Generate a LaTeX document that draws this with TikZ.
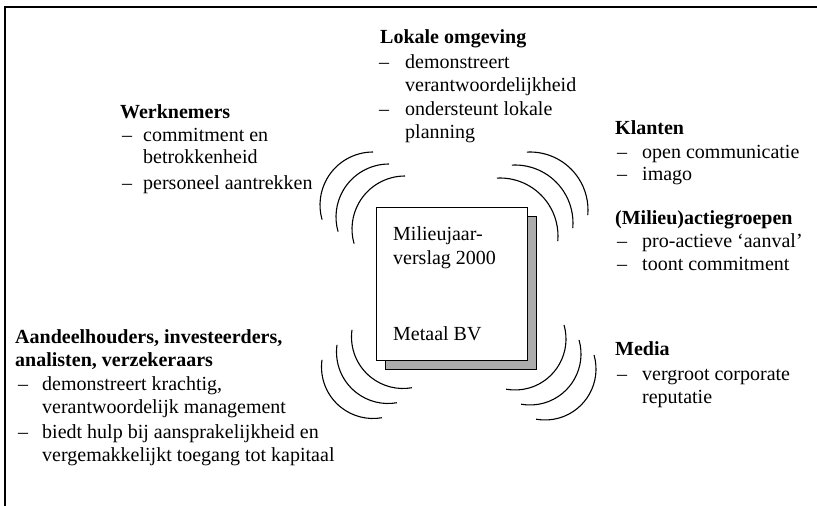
\documentclass[tikz,border=0pt]{standalone}
\usepackage{fontspec}
\setmainfont{Liberation Serif}
\begin{document}
\begin{tikzpicture}[x=1pt,y=1pt,
  txt/.style={anchor=base west, inner sep=0pt, font=\fontsize{20}{23}\selectfont},
  head/.style={txt, font=\fontsize{20}{23}\selectfont\bfseries},
  wave/.style={line width=1.1pt},
  framel/.style={line width=1.3pt}]
\useasboundingbox (0,0) rectangle (817,-506);
% partial frame
\coordinate (f1) at (5,-506);
\coordinate (f2) at (5,-7);
\coordinate (f3) at (817,-7);
\draw[framel] (f1) -- (f2) -- (f3);
% report with shadow
\node[draw=black, line width=0.8pt, fill=gray!65, minimum width=151pt, minimum height=153pt, inner sep=0pt] (shadow) at (460.5,-292.5) {};
\node[draw=black, line width=0.8pt, fill=white, minimum width=151pt, minimum height=153pt, inner sep=0pt] (report) at (451.5,-283.5) {};
\node[txt] (r1) at (393,-240) {Milieujaar-};
\node[txt] (r2) at (393,-264) {verslag 2000};
\node[txt] (r3) at (393,-340) {Metaal BV};
% waves
\foreach \cx/\cy in {373/205,389/217,405/229}
  \draw[wave] ([shift={(90:53pt)}]\cx,-\cy) arc[start angle=90,end angle=196,radius=53pt];
\foreach \cx/\cy in {530/210,515/223,500/236}
  \draw[wave] ([shift={(93:58pt)}]\cx,-\cy) arc[start angle=93,end angle=-5,radius=58pt];
\foreach \cx/\cy in {403/337,388/352,373/367}
  \draw[wave] ([shift={(172:51.5pt)}]\cx,-\cy) arc[start angle=172,end angle=280,radius=51.5pt];
\foreach \cx/\cy in {515/339,530/354,545/369}
  \draw[wave] ([shift={(16:51pt)}]\cx,-\cy) arc[start angle=16,end angle=-100,radius=51pt];
% Lokale omgeving
\node[head] (lo) at (380,-43) {Lokale omgeving};
\node[txt] (lo1d) at (379,-68) {–};
\node[txt] (lo1) at (405,-68) {demonstreert};
\node[txt] (lo1b) at (405,-91) {verantwoordelijkheid};
\node[txt] (lo2d) at (379,-115) {–};
\node[txt] (lo2) at (405,-115) {ondersteunt lokale};
\node[txt] (lo2b) at (405,-138) {planning};
% Werknemers
\node[head] (wn) at (120,-118) {Werknemers};
\node[txt] (wn1d) at (122,-141) {–};
\node[txt] (wn1) at (143,-141) {commitment en};
\node[txt] (wn1b) at (143,-163) {betrokkenheid};
\node[txt] (wn2d) at (122,-189) {–};
\node[txt] (wn2) at (143,-189) {personeel aantrekken};
% Klanten
\node[head] (kl) at (615,-134) {Klanten};
\node[txt] (kl1d) at (617,-158) {–};
\node[txt] (kl1) at (642,-158) {open communicatie};
\node[txt] (kl2d) at (617,-180) {–};
\node[txt] (kl2) at (642,-180) {imago};
% Milieu actiegroepen
\node[head] (ma) at (615,-224) {(Milieu)actiegroepen};
\node[txt] (ma1d) at (617,-247) {–};
\node[txt] (ma1) at (642,-247) {pro-actieve ‘aanval’};
\node[txt] (ma2d) at (617,-270) {–};
\node[txt] (ma2) at (642,-270) {toont commitment};
% Media
\node[head] (me) at (615,-355) {Media};
\node[txt] (me1d) at (617,-380) {–};
\node[txt] (me1) at (642,-380) {vergroot corporate};
\node[txt] (me1b) at (642,-403) {reputatie};
% Aandeelhouders
\node[head] (aa) at (15,-343) {Aandeelhouders, investeerders,};
\node[head] (aab) at (15,-366) {analisten, verzekeraars};
\node[txt] (aa1d) at (18,-390) {–};
\node[txt] (aa1) at (42,-390) {demonstreert krachtig,};
\node[txt] (aa1b) at (42,-413) {verantwoordelijk management};
\node[txt] (aa2d) at (18,-438) {–};
\node[txt] (aa2) at (42,-438) {biedt hulp bij aansprakelijkheid en};
\node[txt] (aa2b) at (42,-461) {vergemakkelijkt toegang tot kapitaal};
\end{tikzpicture}
\end{document}
